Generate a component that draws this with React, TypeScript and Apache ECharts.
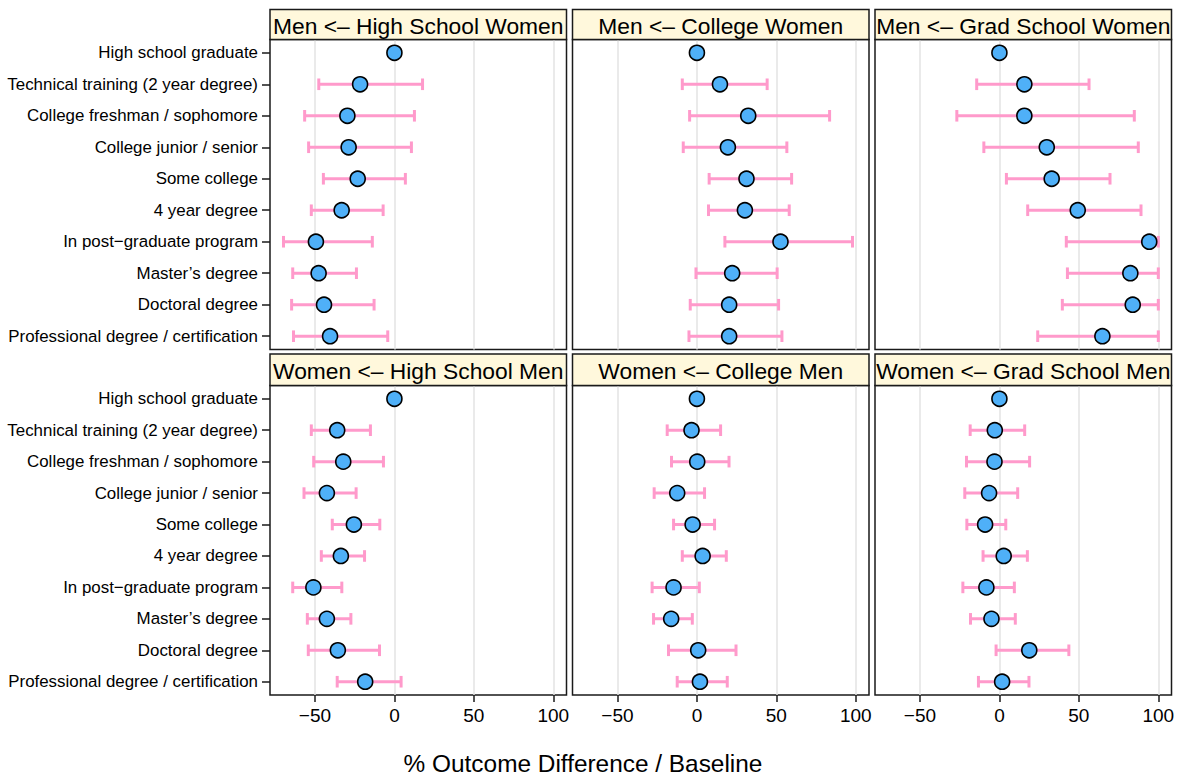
import React, { useEffect, useRef } from "react";
import * as echarts from "echarts";

const categories = [
  "High school graduate",
  "Technical training (2 year degree)",
  "College freshman / sophomore",
  "College junior / senior",
  "Some college",
  "4 year degree",
  "In post\u2212graduate program",
  "Master\u2019s degree",
  "Doctoral degree",
  "Professional degree / certification",
];

const panelTitles = [
  "Men <\u2013 High School Women",
  "Men <\u2013 College Women",
  "Men <\u2013 Grad School Women",
  "Women <\u2013 High School Men",
  "Women <\u2013 College Men",
  "Women <\u2013 Grad School Men",
];

const xTicks = [-50, 0, 50, 100];
const xTickLabels = ["\u221250", "0", "50", "100"];
const xTitle = "% Outcome Difference / Baseline";

// Panel 1: Men <- High School Women
const est1 = [0, -21.6, -29.6, -28.8, -23.1, -33.2, -49.4, -47.7, -44.3, -40.5];
const lo1 = [null, -47.6, -56.5, -54, -44.7, -52.3, -69.8, -64, -64.7, -63.5];
const hi1 = [null, 17.7, 12.6, 10.7, 6.9, -7.1, -13.9, -23.9, -12.8, -4.2];

// Panel 2: Men <- College Women
const est2 = [0, 14.5, 32.3, 19.5, 31.2, 30.2, 52.6, 22.2, 20.3, 20.3];
const lo2 = [null, -9.2, -4.6, -8.6, 7.7, 7.3, 17.6, -0.6, -4.2, -5];
const hi2 = [null, 44.2, 83.5, 56.6, 59.6, 58.1, 97.9, 50.5, 51.4, 53.5];

// Panel 3: Men <- Grad School Women
const est3 = [0, 15.7, 15.7, 29.8, 32.9, 49.3, 94.3, 82.4, 83.9, 64.8];
const lo3 = [null, -14.3, -26.8, -9.8, 4.4, 17.8, 42.1, 42.8, 39.6, 24.1];
const hi3 = [null, 56.4, 84.9, 87.4, 69.6, 89.1, 100, 100, 100, 100];

// Panel 4: Women <- High School Men
const est4 = [0, -36, -32.2, -42.5, -25.5, -33.7, -51, -42.5, -35.6, -18.4];
const lo4 = [null, -52.3, -50.8, -56.9, -39.1, -46, -64, -54.8, -54.2, -36];
const hi4 = [null, -15.1, -6.9, -24.1, -9.2, -18.8, -33.1, -27.4, -9.4, 4.2];

// Panel 5: Women <- College Men
const est5 = [0, -3.4, 0.2, -12.4, -2.7, 3.6, -14.7, -16.2, 0.8, 1.9];
const lo5 = [null, -18.7, -16, -26.9, -14.7, -9.2, -28.2, -27.3, -17.9, -12.4];
const hi5 = [null, 14.9, 20.2, 4.8, 11.1, 18.5, 1.5, -2.9, 24.6, 19.1];

// Panel 6: Women <- Grad School Men
const est6 = [0, -2.9, -3.1, -6.5, -9, 2.7, -8.2, -5, 18.8, 1.7];
const lo6 = [null, -18.4, -20.7, -21.8, -20.5, -10.3, -23, -18.2, -2.1, -13.2];
const hi6 = [null, 15.9, 19, 11.5, 4, 17.6, 9.4, 10, 43.7, 18.6];

const estimates = [est1, est2, est3, est4, est5, est6];
const lowers = [lo1, lo2, lo3, lo4, lo5, lo6];
const uppers = [hi1, hi2, hi3, hi4, hi5, hi6];

const FONT = "'Liberation Sans', Arial, Helvetica, sans-serif";
const W = 1183;
const H = 780;

export default function App() {
  const ref = useRef<HTMLDivElement>(null);

  useEffect(() => {
    document.body.style.margin = "0";
    if (!ref.current) return;
    const chart = echarts.init(ref.current, null, { renderer: "svg" });

    const colLefts = [270, 572.5, 875];
    const colWidth = 296.5;
    const rowTops = [39.5, 385.5];
    const rowHeights = [310, 309.5];
    const stripTops = [9.5, 354];
    const stripHeights = [30, 31.5];
    const rowIdx = categories.map((_, i) => i + 1);

    const grids: any[] = [];
    const xAxes: any[] = [];
    const yAxes: any[] = [];
    const series: any[] = [];
    const graphics: any[] = [];

    for (let p = 0; p < 6; p++) {
      const r = Math.floor(p / 3);
      const c = p % 3;
      grids.push({
        left: colLefts[c],
        top: rowTops[r],
        width: colWidth,
        height: rowHeights[r],
        show: true,
        borderColor: "#1a1a1a",
        borderWidth: 1.5,
        backgroundColor: "transparent",
        containLabel: false,
      });
      xAxes.push({
        type: "value",
        gridIndex: p,
        position: "bottom",
        min: -78.3,
        max: 108.3,
        axisLine: { show: false, onZero: false },
        axisTick: {
          show: r === 1,
          customValues: xTicks,
          length: 7,
          lineStyle: { color: "#1a1a1a", width: 1.5 },
        },
        axisLabel: {
          show: r === 1,
          customValues: xTicks,
          margin: 11,
          fontSize: 19,
          fontFamily: FONT,
          color: "#000",
          formatter: (v: number) => xTickLabels[xTicks.indexOf(v)] ?? String(v),
        },
        splitLine: {
          show: true,
          lineStyle: { color: "#e3e3e3", width: 1.5 },
        },
      });
      yAxes.push({
        type: "value",
        gridIndex: p,
        position: "left",
        inverse: true,
        min: 0.578,
        max: 10.422,
        axisLine: { show: false, onZero: false },
        axisTick: {
          show: c === 0,
          customValues: rowIdx,
          length: 8,
          lineStyle: { color: "#1a1a1a", width: 1.5 },
        },
        axisLabel: {
          show: c === 0,
          customValues: rowIdx,
          margin: 12,
          fontSize: 16.9,
          fontFamily: FONT,
          color: "#000",
          formatter: (v: number) => categories[Math.round(v) - 1] ?? "",
        },
        splitLine: { show: false },
      });

      const errData: any[] = [];
      categories.forEach((_, i) => {
        const lo = lowers[p][i];
        const hi = uppers[p][i];
        if (lo !== null && hi !== null) errData.push([i + 1, lo, hi]);
      });
      series.push({
        type: "custom",
        xAxisIndex: p,
        yAxisIndex: p,
        z: 2,
        encode: { x: [1, 2], y: 0 },
        data: errData,
        renderItem: (params: any, api: any) => {
          const row = api.value(0);
          const a = api.coord([api.value(1), row]);
          const b = api.coord([api.value(2), row]);
          const half = 5.8;
          const st = { stroke: "#ff9acb", lineWidth: 3 };
          return {
            type: "group",
            children: [
              { type: "line", shape: { x1: a[0], y1: a[1], x2: b[0], y2: b[1] }, style: st },
              { type: "line", shape: { x1: a[0], y1: a[1] - half, x2: a[0], y2: a[1] + half }, style: st },
              { type: "line", shape: { x1: b[0], y1: b[1] - half, x2: b[0], y2: b[1] + half }, style: st },
            ],
          };
        },
      });
      series.push({
        type: "scatter",
        xAxisIndex: p,
        yAxisIndex: p,
        z: 3,
        symbol: "circle",
        symbolSize: 15,
        itemStyle: { color: "#4fb0f8", borderColor: "#000", borderWidth: 1.6, opacity: 1 },
        data: estimates[p].map((v, i) => [v, i + 1]),
      });

      graphics.push({
        type: "rect",
        shape: { x: colLefts[c], y: stripTops[r], width: colWidth, height: stripHeights[r] },
        style: { fill: "#fff8dc", stroke: "#1a1a1a", lineWidth: 1.5 },
        z: 10,
      });
      graphics.push({
        type: "text",
        x: colLefts[c] + colWidth / 2,
        y: stripTops[r] + stripHeights[r] / 2 + 1,
        style: {
          text: panelTitles[p],
          fontSize: 22.8,
          fontFamily: FONT,
          fill: "#000",
          align: "center",
          verticalAlign: "middle",
        },
        z: 11,
      });
    }

    graphics.push({
      type: "text",
      x: 583,
      y: 763,
      style: {
        text: xTitle,
        fontSize: 24.4,
        fontFamily: FONT,
        fill: "#000",
        align: "center",
        verticalAlign: "middle",
      },
    });

    chart.setOption({
      animation: false,
      backgroundColor: "#fff",
      grid: grids,
      xAxis: xAxes,
      yAxis: yAxes,
      series,
      graphic: graphics,
    });

    return () => chart.dispose();
  }, []);

  return <div ref={ref} style={{ width: W, height: H }} />;
}
